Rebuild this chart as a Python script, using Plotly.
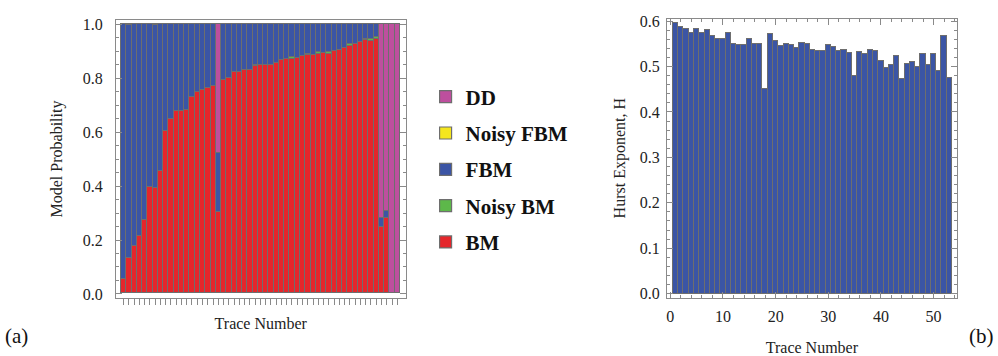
import plotly.graph_objects as go

# ---------------- data ----------------
trace_numbers = list(range(1, 54))

bm = [0.053, 0.130, 0.175, 0.214, 0.274, 0.395, 0.393, 0.456, 0.602, 0.646,
      0.676, 0.678, 0.680, 0.727, 0.748, 0.755, 0.762, 0.770, 0.301, 0.790,
      0.800, 0.821, 0.823, 0.828, 0.830, 0.842, 0.849, 0.849, 0.848, 0.855,
      0.865, 0.868, 0.871, 0.873, 0.879, 0.885, 0.883, 0.889, 0.891, 0.889,
      0.901, 0.904, 0.910, 0.919, 0.925, 0.931, 0.939, 0.937, 0.945, 0.247,
      0.280, 0.0, 0.0]

noisy_bm = [0, 0, 0, 0, 0, 0, 0, 0, 0, 0,
            0, 0, 0, 0, 0, 0, 0, 0, 0, 0,
            0, 0, 0, 0, 0, 0.005, 0, 0, 0, 0,
            0, 0, 0.005, 0, 0, 0.005, 0, 0.005, 0, 0.005,
            0, 0, 0, 0.005, 0, 0, 0.005, 0.005, 0.005, 0,
            0, 0, 0]

fbm = [0.947, 0.866, 0.825, 0.786, 0.726, 0.605, 0.603, 0.544, 0.398, 0.354,
       0.324, 0.322, 0.320, 0.273, 0.252, 0.245, 0.238, 0.230, 0.220, 0.210,
       0.200, 0.179, 0.177, 0.172, 0.170, 0.153, 0.151, 0.151, 0.152, 0.145,
       0.135, 0.132, 0.124, 0.127, 0.121, 0.110, 0.117, 0.106, 0.109, 0.106,
       0.099, 0.096, 0.090, 0.076, 0.075, 0.069, 0.056, 0.058, 0.050, 0.033,
       0.027, 0.0, 0.0]

noisy_fbm = [0, 0.004, 0, 0, 0, 0, 0.004, 0, 0, 0,
             0, 0, 0, 0, 0, 0, 0, 0, 0, 0,
             0, 0, 0, 0, 0, 0, 0, 0, 0, 0,
             0, 0, 0, 0, 0, 0, 0, 0, 0, 0,
             0, 0, 0, 0, 0, 0, 0, 0, 0, 0,
             0, 0, 0]

dd = [0, 0, 0, 0, 0, 0, 0, 0, 0, 0,
      0, 0, 0, 0, 0, 0, 0, 0, 0.479, 0,
      0, 0, 0, 0, 0, 0, 0, 0, 0, 0,
      0, 0, 0, 0, 0, 0, 0, 0, 0, 0,
      0, 0, 0, 0, 0, 0, 0, 0, 0, 0.720,
      0.693, 1.0, 1.0]

hurst = [0.597, 0.587, 0.584, 0.575, 0.582, 0.574, 0.580, 0.568, 0.560, 0.561,
         0.574, 0.550, 0.547, 0.547, 0.562, 0.550, 0.551, 0.450, 0.573, 0.557,
         0.545, 0.550, 0.548, 0.541, 0.553, 0.550, 0.537, 0.534, 0.534, 0.547,
         0.543, 0.534, 0.536, 0.531, 0.480, 0.532, 0.527, 0.536, 0.534, 0.513,
         0.497, 0.504, 0.523, 0.474, 0.506, 0.511, 0.500, 0.527, 0.504, 0.529,
         0.491, 0.567, 0.476]

# stacking order (bottom -> top) and legend rank (top -> bottom in legend)
series = [
    ("BM", bm, "#E5262B", 5),
    ("Noisy BM", noisy_bm, "#5DB84A", 4),
    ("FBM", fbm, "#3B55A5", 3),
    ("Noisy FBM", noisy_fbm, "#F5E61E", 2),
    ("DD", dd, "#BE4F9E", 1),
]

EDGE = "#6e6e6e"
FRAME = "#8a8a8a"
FONT = "Liberation Serif, Times New Roman, DejaVu Serif, serif"

fig = go.Figure()
for name, vals, col, rank in series:
    fig.add_trace(go.Bar(
        x=trace_numbers, y=vals, name=name, legendgroup=name, legendrank=rank,
        marker=dict(color=col, line=dict(color=EDGE, width=1.2)),
        width=1.0, xaxis="x", yaxis="y"))

fig.add_trace(go.Bar(
    x=trace_numbers, y=hurst, name="H", showlegend=False,
    marker=dict(color="#3B55A5", line=dict(color=EDGE, width=1.2)),
    width=1.0, xaxis="x2", yaxis="y2"))

W, H = 998, 356

def px_x(p):
    return p / W

def px_y(p):
    return 1 - p / H

tickfont = dict(family=FONT, size=16, color="#222")
titlefont = dict(family=FONT, size=16, color="#222")

fig.update_layout(
    width=W, height=H,
    margin=dict(l=0, r=0, t=0, b=0),
    paper_bgcolor="white", plot_bgcolor="white",
    barmode="stack", bargap=0,
    xaxis=dict(
        domain=[px_x(115), px_x(405)], range=[-0.45, 54.58],
        tickmode="array", tickvals=trace_numbers, showticklabels=False,
        ticks="outside", ticklen=6, tickcolor=FRAME, tickwidth=1,
        showline=True, linecolor=FRAME, linewidth=1, mirror=True,
        showgrid=False, zeroline=False,
        title=dict(text="Trace Number", font=titlefont, standoff=14),
        anchor="y"),
    yaxis=dict(
        domain=[px_y(301.7), px_y(15)], range=[-0.0133, 1.0143],
        tickmode="array", tickvals=[0, 0.2, 0.4, 0.6, 0.8, 1.0],
        ticktext=["0.0", "0.2", "0.4", "0.6", "0.8", "1.0"],
        ticks="inside", ticklen=6, tickcolor=FRAME,
        minor=dict(ticks="inside", ticklen=3, dtick=0.05, tick0=0, tickcolor=FRAME, showgrid=False),
        showline=True, linecolor=FRAME, linewidth=1, mirror="allticks",
        showgrid=False, zeroline=False, tickfont=tickfont,
        ticklabelstandoff=9,
        title=dict(text="Model Probability", font=titlefont, standoff=16),
        anchor="x"),
    xaxis2=dict(
        domain=[px_x(666.7), px_x(956.7)], range=[-0.63, 54.4],
        tickmode="linear", tick0=0, dtick=10,
        ticks="inside", ticklen=6, tickcolor=FRAME,
        minor=dict(ticks="inside", ticklen=3, dtick=2, tick0=0, tickcolor=FRAME, showgrid=False),
        showline=True, linecolor=FRAME, linewidth=1, mirror="allticks",
        showgrid=False, zeroline=False, tickfont=tickfont,
        ticklabelstandoff=4,
        title=dict(text="Trace Number", font=titlefont, standoff=20),
        anchor="y2"),
    yaxis2=dict(
        domain=[px_y(301.7), px_y(13.3)], range=[-0.0085, 0.605],
        tickmode="array", tickvals=[0, 0.1, 0.2, 0.3, 0.4, 0.5, 0.6],
        ticktext=["0.0", "0.1", "0.2", "0.3", "0.4", "0.5", "0.6"],
        ticks="inside", ticklen=6, tickcolor=FRAME,
        minor=dict(ticks="inside", ticklen=3, dtick=0.02, tick0=0, tickcolor=FRAME, showgrid=False),
        showline=True, linecolor=FRAME, linewidth=1, mirror="allticks",
        showgrid=False, zeroline=False, tickfont=tickfont,
        ticklabelstandoff=3,
        title=dict(text="Hurst Exponent, H", font=titlefont, standoff=10),
        anchor="x2"),
    legend=dict(
        x=px_x(425), y=px_y(73), xanchor="left", yanchor="top",
        traceorder="grouped", tracegroupgap=6,
        font=dict(family=FONT, size=21, color="#111", weight="bold"),
        bgcolor="rgba(0,0,0,0)", borderwidth=0),
    annotations=[
        dict(text="(a)", x=px_x(2), y=px_y(342), xref="paper", yref="paper",
             xanchor="left", yanchor="middle", showarrow=False,
             font=dict(family=FONT, size=21, color="#111")),
        dict(text="(b)", x=px_x(996), y=px_y(342), xref="paper", yref="paper",
             xanchor="right", yanchor="middle", showarrow=False,
             font=dict(family=FONT, size=21, color="#111")),
    ],
)

fig.write_html("out.html")
